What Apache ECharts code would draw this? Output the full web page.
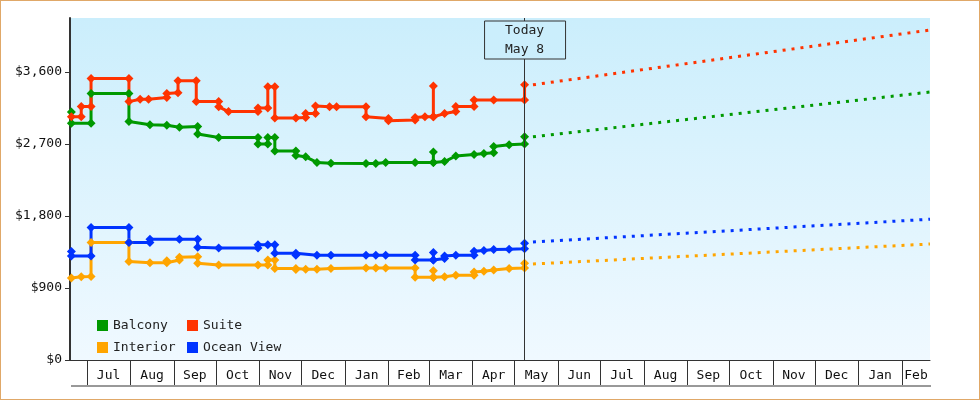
<!DOCTYPE html>
<html><head><meta charset="utf-8">
<script src="https://cdn.jsdelivr.net/npm/echarts@6/dist/echarts.min.js"></script>
<style>html,body{margin:0;padding:0;background:#fff}#c{width:978px;height:398px;border:1px solid #e0a868}</style>
</head><body><div id="c"></div>
<script>
const xStart = '2023-06-19', xEnd = '2025-02-21', today = '2024-05-08';
const yTicks = [0, 900, 1800, 2700, 3600];
const monthNames = ['Jan','Feb','Mar','Apr','May','Jun','Jul','Aug','Sep','Oct','Nov','Dec'];
const balcony = [
['2023-06-20',3100],['2023-06-20',2960],['2023-07-04',2960],['2023-07-04',3330],['2023-07-31',3330],['2023-07-31',2980],
['2023-08-15',2940],['2023-08-27',2935],['2023-09-05',2910],['2023-09-18',2920],['2023-09-18',2825],['2023-10-03',2780],
['2023-10-31',2780],['2023-10-31',2700],['2023-11-07',2700],['2023-11-07',2780],['2023-11-12',2780],['2023-11-12',2612],
['2023-11-27',2612],['2023-11-27',2555],['2023-12-04',2540],['2023-12-12',2470],['2023-12-22',2460],['2024-01-16',2455],
['2024-01-23',2455],['2024-01-30',2470],['2024-02-20',2470],['2024-03-04',2470],['2024-03-04',2600],['2024-03-04',2470],
['2024-03-12',2480],['2024-03-20',2550],['2024-04-02',2570],['2024-04-09',2580],['2024-04-16',2590],['2024-04-16',2670],
['2024-04-27',2690],['2024-05-08',2700],['2024-05-08',2790]];
const suite = [
['2023-06-20',3040],['2023-06-27',3040],['2023-06-27',3170],['2023-07-04',3170],['2023-07-04',3520],['2023-07-31',3520],
['2023-07-31',3230],['2023-08-08',3260],['2023-08-14',3260],['2023-08-27',3280],['2023-08-27',3330],['2023-09-04',3340],
['2023-09-04',3490],['2023-09-17',3490],['2023-09-17',3230],['2023-10-03',3230],['2023-10-03',3165],['2023-10-10',3105],
['2023-10-31',3105],['2023-10-31',3150],['2023-11-07',3150],['2023-11-07',3415],['2023-11-12',3415],['2023-11-12',3025],
['2023-11-27',3025],['2023-12-04',3030],['2023-12-04',3080],['2023-12-11',3080],['2023-12-11',3175],['2023-12-21',3165],
['2023-12-26',3165],['2024-01-16',3165],['2024-01-16',3040],['2024-02-01',3020],['2024-02-01',2990],['2024-02-20',3000],
['2024-02-20',3030],['2024-02-27',3040],['2024-03-04',3040],['2024-03-04',3425],['2024-03-04',3040],['2024-03-12',3080],
['2024-03-20',3105],['2024-03-20',3170],['2024-04-02',3170],['2024-04-02',3250],['2024-04-16',3250],['2024-05-08',3250],
['2024-05-08',3440]];
const interior = [
['2023-06-20',1025],['2023-06-27',1040],['2023-07-04',1045],['2023-07-04',1470],['2023-07-31',1470],['2023-07-31',1230],
['2023-08-15',1215],['2023-08-27',1215],['2023-08-27',1240],['2023-09-05',1250],['2023-09-05',1283],['2023-09-18',1290],
['2023-09-18',1210],['2023-10-03',1188],['2023-10-31',1188],['2023-11-07',1188],['2023-11-07',1250],['2023-11-12',1250],
['2023-11-12',1145],['2023-11-27',1145],['2023-11-27',1130],['2023-12-04',1135],['2023-12-12',1135],['2023-12-22',1145],
['2024-01-16',1150],['2024-01-23',1150],['2024-01-30',1150],['2024-02-20',1150],['2024-02-20',1033],['2024-03-04',1033],
['2024-03-04',1115],['2024-03-04',1033],['2024-03-12',1040],['2024-03-20',1060],['2024-04-02',1060],['2024-04-02',1100],
['2024-04-09',1110],['2024-04-16',1125],['2024-04-27',1145],['2024-05-08',1150],['2024-05-08',1210]];
const oceanView = [
['2023-06-20',1355],['2023-06-20',1300],['2023-07-04',1300],['2023-07-04',1655],['2023-07-31',1655],['2023-07-31',1470],
['2023-08-15',1470],['2023-08-15',1510],['2023-09-05',1510],['2023-09-18',1510],['2023-09-18',1410],['2023-10-03',1400],
['2023-10-31',1400],['2023-10-31',1440],['2023-11-07',1440],['2023-11-12',1440],['2023-11-12',1335],['2023-11-27',1335],
['2023-11-27',1310],['2023-12-12',1310],['2023-12-22',1310],['2024-01-16',1310],['2024-01-23',1310],['2024-01-30',1310],
['2024-02-20',1310],['2024-02-20',1250],['2024-03-04',1250],['2024-03-04',1345],['2024-03-04',1250],['2024-03-12',1270],
['2024-03-12',1300],['2024-03-20',1310],['2024-04-02',1310],['2024-04-02',1360],['2024-04-09',1370],['2024-04-16',1380],
['2024-04-27',1385],['2024-05-08',1390],['2024-05-08',1460]];
const balconyFuture = [['2024-05-14',2790],['2025-02-21',3350]];
const suiteFuture = [['2024-05-14',3440],['2025-02-21',4125]];
const interiorFuture = [['2024-05-14',1200],['2025-02-21',1450]];
const oceanFuture = [['2024-05-14',1475],['2025-02-21',1760]];

const ts = s => new Date(s + 'T00:00:00Z').getTime();
const conv = a => a.map(p => [ts(p[0]), p[1]]);
const boundaries = [], mids = [];
for (let y = 2023, m = 6; y < 2025 || m <= 1; ) {
  const b = Date.UTC(y, m, 1); boundaries.push(b);
  let ny = y, nm = m + 1; if (nm > 11) { nm = 0; ny++; }
  const e = Date.UTC(ny, nm, 1);
  mids.push(Math.min((b + e) / 2, (b + ts(xEnd)) / 2));
  y = ny; m = nm;
}
const colors = {Balcony:'#009900', Suite:'#ff3300', Interior:'#ffa500', 'Ocean View':'#0033ff'};
const font = 'DejaVu Sans Mono';
function solid(name, data) {
  return {name, type:'line', data:conv(data), color:colors[name], symbol:'diamond', symbolSize:9,
    lineStyle:{width:3}, itemStyle:{color:colors[name]}, animation:false, z:3};
}
function dashed(name, data) {
  return {name, type:'line', data:conv(data), color:colors[name], symbol:'none',
    lineStyle:{width:3, type:[3,6]}, animation:false, z:2};
}
const chart = echarts.init(document.getElementById('c'));
const s = [solid('Balcony', balcony), solid('Suite', suite), solid('Interior', interior), solid('Ocean View', oceanView),
  dashed('Balcony', balconyFuture), dashed('Suite', suiteFuture), dashed('Interior', interiorFuture), dashed('Ocean View', oceanFuture)];
s[0].markLine = {symbol:'none', silent:true, label:{show:false}, lineStyle:{color:'#333', width:1, type:'solid'}, data:[{xAxis: ts(today)}]};
chart.setOption({
  animation:false,
  textStyle:{fontFamily:font},
  grid:{left:69, right:49, top:17, bottom:39, show:true, borderWidth:0,
    backgroundColor:{type:'linear', x:0, y:0, x2:0, y2:1, colorStops:[{offset:0,color:'#cbeefc'},{offset:1,color:'#f0f9ff'}]}},
  legend:[
    {data:['Balcony','Interior'], orient:'vertical', left:91, top:313, itemWidth:11, itemHeight:11, itemGap:9, icon:'rect',
      textStyle:{fontFamily:font, fontSize:13, color:'#222'}},
    {data:['Suite','Ocean View'], orient:'vertical', left:181, top:313, itemWidth:11, itemHeight:11, itemGap:9, icon:'rect',
      textStyle:{fontFamily:font, fontSize:13, color:'#222'}}],
  xAxis:{type:'value', min:ts(xStart), max:ts(xEnd),
    axisLine:{lineStyle:{color:'#333'}},
    axisTick:{show:true, length:25, customValues:boundaries, lineStyle:{color:'#333'}},
    axisLabel:{customValues:mids, margin:9, fontFamily:font, fontSize:13, color:'#111',
      formatter:v => monthNames[new Date(v).getUTCMonth()]},
    splitLine:{show:false}},
  yAxis:{type:'value', min:0, max:4275, interval:900,
    axisLine:{show:true, lineStyle:{color:'#333', width:2}},
    axisTick:{show:true, length:5, customValues:yTicks, lineStyle:{color:'#333'}},
    axisLabel:{customValues:yTicks, fontFamily:font, fontSize:13, color:'#111', margin:8,
      formatter:v => '$' + v.toLocaleString('en-US')},
    splitLine:{show:false}},
  series:s
});
const px = chart.convertToPixel({xAxisIndex:0}, ts(today));
chart.setOption({graphic:[
  {type:'line', shape:{x1:70, y1:385, x2:930, y2:385}, style:{stroke:'#333', lineWidth:1}},
  {type:'rect', shape:{x:px-40, y:20, width:81, height:38}, style:{fill:'#cbeefc', stroke:'#333', lineWidth:1}, z:10},
  {type:'text', x:px, y:39, style:{text:'Today\nMay 8', fontFamily:font, fontSize:13, fill:'#222', align:'center', verticalAlign:'middle', lineHeight:19}, z:11}
]});
</script></body></html>
